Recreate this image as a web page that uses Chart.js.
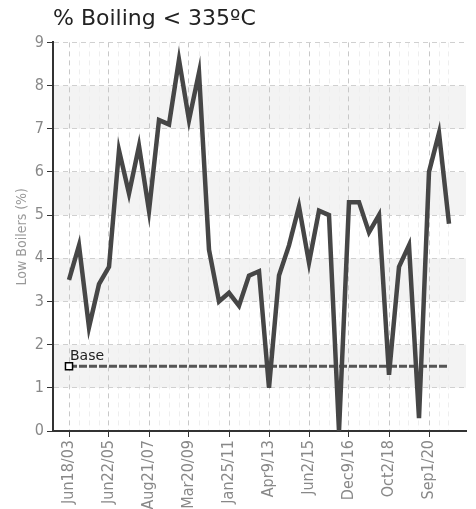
<!DOCTYPE html>
<html>
<head>
<meta charset="utf-8">
<script src="https://cdn.jsdelivr.net/npm/chart.js@4"></script>
<style>
  html, body { margin: 0; padding: 0; background: #fff; }
  #wrap { width: 476px; height: 509px; }
</style>
</head>
<body>
<div id="wrap"><canvas id="chartBoilers"></canvas></div>
<script>
// sample dates, only every 4th one is printed on the axis
const dateLabels = [
  "Jun18/03", "", "", "",
  "Jun22/05", "", "", "",
  "Aug21/07", "", "", "",
  "Mar20/09", "", "", "",
  "Jan25/11", "", "", "",
  "Apr9/13", "", "", "",
  "Jun2/15", "", "", "",
  "Dec9/16", "", "", "",
  "Oct2/18", "", "", "",
  "Sep1/20", "", ""
];
const lowBoilers = [
  3.5, 4.3, 2.4, 3.4, 3.8, 6.5, 5.5, 6.6, 5.1, 7.2,
  7.1, 8.6, 7.2, 8.3, 4.2, 3.0, 3.2, 2.9, 3.6, 3.7,
  1.0, 3.6, 4.3, 5.2, 3.9, 5.1, 5.0, 0.0, 5.3, 5.3,
  4.6, 5.0, 1.3, 3.8, 4.3, 0.3, 6.0, 6.9, 4.8
];
const baseValue = 1.5;
const yTicks = [0, 1, 2, 3, 4, 5, 6, 7, 8, 9];

const narrow = "'Liberation Sans Narrow', 'DejaVu Sans Condensed', sans-serif";

// light grey bands behind the plot
const bandsPlugin = {
  id: 'bands',
  beforeDraw(chart) {
    const {ctx, chartArea, scales} = chart;
    ctx.save();
    ctx.fillStyle = '#f3f3f3';
    for (let i = 1; i < yTicks.length - 1; i += 2) {
      const top = scales.y.getPixelForValue(yTicks[i + 1]);
      const bottom = scales.y.getPixelForValue(yTicks[i]);
      ctx.fillRect(chartArea.left, top, chartArea.right - chartArea.left, bottom - top);
    }
    ctx.restore();
  }
};

// "Base" text next to the first marker of the base line
const baseLabelPlugin = {
  id: 'baseLabel',
  afterDatasetsDraw(chart) {
    const meta = chart.getDatasetMeta(1);
    const pt = meta.data[0];
    if (!pt) return;
    const ctx = chart.ctx;
    ctx.save();
    ctx.font = "14px 'DejaVu Sans', sans-serif";
    ctx.fillStyle = '#222';
    ctx.textBaseline = 'alphabetic';
    ctx.fillText('Base', pt.x + 1, pt.y - 6);
    ctx.restore();
  }
};

const points = lowBoilers.map((v, i) => ({x: i, y: v}));
const basePoints = lowBoilers.map((v, i) => ({x: i, y: baseValue}));

new Chart(document.getElementById('chartBoilers'), {
  type: 'line',
  data: {
    datasets: [{
      label: 'Low Boilers',
      data: points,
      borderColor: '#464646',
      borderWidth: 4.5,
      pointRadius: 0,
      tension: 0
    }, {
      label: 'Base',
      data: basePoints,
      borderColor: '#555',
      borderWidth: 3,
      borderDash: [8, 2],
      pointStyle: 'rect',
      pointRadius: basePoints.map((p, i) => i === 0 ? 5 : 0),
      pointBackgroundColor: '#fff',
      pointBorderColor: '#000',
      pointBorderWidth: 1.5,
      tension: 0
    }]
  },
  options: {
    responsive: true,
    maintainAspectRatio: false,
    animation: false,
    layout: { padding: { left: 12, right: 10, top: 0, bottom: 0 } },
    scales: {
      x: {
        type: 'linear',
        min: -1.6,
        max: 39.7,
        afterBuildTicks: (scale) => {
          scale.ticks = dateLabels.map((l, i) => ({value: i}));
        },
        afterFit: (scale) => { scale.height = 78; },
        ticks: {
          autoSkip: false,
          maxRotation: 90,
          minRotation: 90,
          padding: 3,
          color: '#888',
          font: { family: narrow, size: 16 },
          callback: (v) => dateLabels[v] || ''
        },
        grid: {
          color: (c) => c.index % 4 === 0 ? '#c8c8c8' : '#eeeeee',
          tickColor: (c) => c.index % 4 === 0 ? '#333' : 'rgba(0,0,0,0)',
          tickLength: 6,
          lineWidth: 1
        },
        border: { display: true, color: '#333', width: 2, dash: [5, 4] }
      },
      y: {
        min: 0,
        max: 9,
        afterBuildTicks: (scale) => {
          scale.ticks = yTicks.map(v => ({value: v}));
        },
        afterFit: (scale) => { scale.width = 41; },
        ticks: {
          color: '#888',
          padding: 3,
          font: { family: narrow, size: 16 }
        },
        grid: {
          color: '#d0d0d0',
          tickColor: '#333',
          tickLength: 6
        },
        border: { display: true, color: '#333', width: 2, dash: [5, 4] },
        title: {
          display: true,
          text: 'Low Boilers (%)',
          color: '#999',
          font: { family: narrow, size: 14 },
          padding: 2
        }
      }
    },
    plugins: {
      legend: { display: false },
      tooltip: { enabled: false },
      title: {
        display: true,
        text: '% Boiling < 335\u00baC',
        align: 'start',
        fullSize: false,
        color: '#222',
        font: { family: "'DejaVu Sans', sans-serif", size: 22, weight: 'normal' },
        padding: { top: 6, bottom: 10 }
      }
    }
  },
  plugins: [bandsPlugin, baseLabelPlugin]
});
</script>
</body>
</html>
